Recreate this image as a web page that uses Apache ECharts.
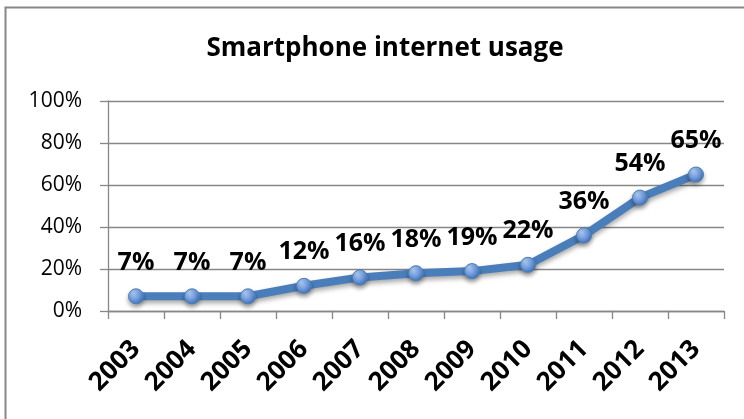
<!DOCTYPE html>
<html>
<head>
<meta charset="utf-8">
<script src="https://cdn.jsdelivr.net/npm/echarts@6/dist/echarts.min.js"></script>
<style>
  html, body { margin: 0; padding: 0; background: #ffffff; }
  #chart { width: 744px; height: 419px; }
</style>
</head>
<body>
<div id="chart"></div>
<script>
// Share of mobile users browsing the internet on a smartphone, by year
const years = ['2003', '2004', '2005', '2006', '2007', '2008', '2009', '2010', '2011', '2012', '2013'];
const usage = [7, 7, 7, 12, 16, 18, 19, 22, 36, 54, 65];
const yTicks = { min: 0, max: 100, interval: 20 };

const chart = echarts.init(document.getElementById('chart'), null, { renderer: 'canvas' });

const gridGray = '#878787';
const lineBlue = '#4a7ebb';

chart.setOption({
  backgroundColor: '#ffffff',
  animation: false,
  title: {
    text: 'Smartphone internet usage',
    left: 380,
    top: 31,
    textAlign: 'center',
    textStyle: {
      fontFamily: 'Open Sans',
      fontWeight: 'bold',
      fontSize: 26,
      color: '#000000'
    }
  },
  graphic: [{
    type: 'rect',
    shape: { x: 5.5, y: 7.5, width: 900, height: 600 },
    style: { fill: 'none', stroke: gridGray, lineWidth: 2 },
    silent: true,
    z: -1
  }],
  grid: { left: 108, right: 20, top: 101, bottom: 108 },
  xAxis: {
    type: 'category',
    data: years,
    boundaryGap: true,
    axisLine: { lineStyle: { color: gridGray, width: 1.3 } },
    axisTick: { show: true, length: 8, alignWithLabel: false, lineStyle: { color: gridGray, width: 1.3 } },
    axisLabel: {
      rotate: 45,
      margin: 34,
      interval: 0,
      fontFamily: 'Open Sans',
      fontWeight: 'bold',
      fontSize: 26,
      color: '#000000'
    }
  },
  yAxis: {
    type: 'value',
    min: yTicks.min,
    max: yTicks.max,
    interval: yTicks.interval,
    axisLine: { show: true, lineStyle: { color: gridGray, width: 1.3 } },
    axisTick: { show: true, length: 8, lineStyle: { color: gridGray, width: 1.3 } },
    splitLine: { show: true, lineStyle: { color: gridGray, width: 1.3 } },
    axisLabel: {
      margin: 26,
      formatter: v => v + '%',
      fontFamily: 'Open Sans',
      fontSize: 21,
      color: '#000000'
    }
  },
  series: [{
    type: 'line',
    data: usage,
    symbol: 'circle',
    symbolSize: 15,
    lineStyle: {
      color: lineBlue,
      width: 8,
      shadowColor: 'rgba(0,0,0,0.35)',
      shadowBlur: 5,
      shadowOffsetY: 3
    },
    itemStyle: {
      color: new echarts.graphic.RadialGradient(0.35, 0.3, 0.75, [
        { offset: 0, color: '#b3d0f5' },
        { offset: 0.55, color: '#6f9be0' },
        { offset: 1, color: '#3f6fb0' }
      ]),
      borderColor: '#4a7ebb',
      borderWidth: 1,
      shadowColor: 'rgba(0,0,0,0.35)',
      shadowBlur: 4,
      shadowOffsetY: 3
    },
    label: {
      show: true,
      position: 'top',
      distance: 13,
      formatter: p => p.value + '%',
      fontFamily: 'Open Sans',
      fontWeight: 'bold',
      fontSize: 25,
      color: '#000000'
    }
  }]
});
</script>
</body>
</html>
